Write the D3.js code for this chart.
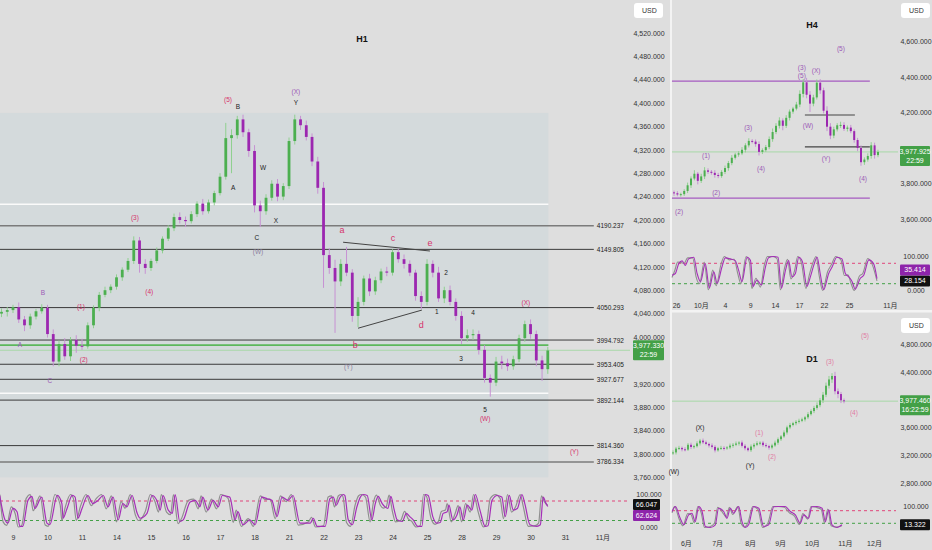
<!DOCTYPE html>
<html>
<head>
<meta charset="utf-8">
<script src="https://cdn.jsdelivr.net/npm/d3@7"></script>
<style>
  body { margin: 0; background: #dedede; }
  svg { display: block; }
</style>
</head>
<body>
<svg width="932" height="550"></svg>
<script>
// ---------- H1 data ----------
let h1Open0 = 4040;
let h1Close = [4043,4046,4051,4030,4020,4035,4044,4050,4005,3958,
  3988,3967,3995,3985,3984,4020,4050,4072,4080,4086,
  4102,4115,4130,4165,4125,4118,4130,4148,4168,4186,
  4205,4200,4198,4210,4228,4215,4230,4246,4274,4340,
  4345,4372,4350,4318,4225,4215,4238,4262,4240,4258,
  4335,4372,4362,4342,4300,4255,4140,4118,4095,4125,
  4110,4036,4060,4100,4078,4097,4112,4110,4145,4133,
  4125,4110,4070,4060,4125,4110,4066,4080,4060,4036,
  3998,4003,4005,3978,3930,3922,3958,3955,3950,3962,
  3998,4022,4005,3960,3945,3977];
let h1Up = [6,5,4,8,6,5,4,6,5,8, 6,10,5,8,12,5,4,5,6,4, 5,4,5,7,6,8,4,5,4,5,
  6,8,6,5,4,8,5,4,6,26, 10,6,8,6,10,8,6,6,8,5, 6,8,6,8,6,8,10,12,14,8,
  29,6,8,5,8,6,5,8,5,6, 8,6,5,8,8,6,10,6,8,6, 8,10,8,6,8,6,8,10,8,6, 6,6,8,6,8,6];
let h1Dn = [6,8,5,6,10,6,5,4,6,8, 8,6,8,12,6,4,5,6,4,5, 5,6,4,5,15,10,5,4,5,4,
  5,6,10,4,5,6,4,5,4,5, 60,6,8,10,12,27,6,5,8,6, 5,6,8,6,8,10,56,10,88,8,
  6,10,19,6,8,6,5,6,5,6, 8,6,8,12,6,8,6,8,6,8, 10,6,8,8,8,24,6,10,8,6, 5,6,8,10,20,8];

let h1TickLabels = ['9','10','11','14','15','16','17','18','21','22','23','24','25','28','29','30','31','11月'];
let h1TickIdx = [2,8,14,20,26,32,38,44,50,56,62,68,74,80,86,92,98,104.5];
let h1PriceTicks = [3760,3800,3840,3880,3920,4000,4040,4080,4120,4160,4200,4240,4280,4320,4360,4400,4440,4480,4520];

let h1Levels = [4190.237,4149.805,4050.293,3994.792,3953.405,3927.677,3892.144,3814.360,3786.334];
let h1WhiteLevels = [4227,3904];
let h1GreenLevel = 3986;
let h1Last = 3977.33;
let h1LastTime = '22:59';
let h1ZoneTop = 4383;
let h1TriUpper = [[59.4,4162],[74.5,4147]];
let h1TriLower = [[62,4015],[73.1,4046]];

let h1WaveText = ['(5)','B','(X)','Y','A','W','X','C','(W)','(3)','(4)','B','(1)','A','(2)','C',
  'a','c','e','d','b','(Y)','2','1','4','3','5','(W)','(X)','(Y)'];
let h1WaveIdx = [39.4,41.1,51.2,51.2,40.3,45.5,47.7,44.4,44.6,23.2,25.7,7.2,13.8,3.2,14.3,8.4,
  59.2,68.1,74.5,73,61.5,60.3,77.3,75.7,82,79.9,84.1,84.1,91.2,99.6];
let h1WavePrice = [4405,4393,4419,4400,4255,4289,4198,4169,4145,4203,4077,4074,4051,3985,3961,3925,
  4181,4169,4159,4020,3986,3949,4109,4043,4041,3962,3875,3860,4058,3803];
let h1WaveKind = ['p','k','v','k','k','k','k','k','g','p','p','v','p','v','p','v',
  'P','P','P','P','P','g','k','k','k','k','k','p','p','p'];

let h1StochD = [
[-0.3,97],[0.6,22],[1.1,12],[2,57],[2.7,47],[3.2,2],[3.7,2],[4.6,82],[5.3,94],[5.8,57],
[7,92],[7.9,12],[8.4,7],[9.7,97],[10.5,72],[10.7,27],[11.4,57],[12.3,97],[12.8,92],[13.3,27],
[14,57],[15,97],[15.9,72],[16.8,82],[17.7,97],[18.5,62],[19.4,92],[20.3,22],[21.1,72],[21.8,62],
[22.7,97],[23.6,42],[24.1,27],[25.3,42],[26.2,97],[27,82],[27.6,52],[28.1,97],[29,52],[29.7,42],
[30.2,100],[31,17],[31.6,22],[32.8,77],[33.7,82],[34.5,62],[35,92],[35.9,52],[36.8,82],[37.7,62],
[38.4,97],[39.7,92],[40.6,22],[41.1,47],[42,7],[43.2,22],[44.1,7],[45.3,92],[46.2,87],[47,82],
[47.9,32],[48.8,92],[49.8,82],[50.7,97],[51.9,12],[53.7,12],[54.2,27],[54.9,2],[56.3,2],[57.1,87],
[57.7,92],[58.2,67],[58.9,92],[59.4,100],[59.7,97],[60.3,22],[61,7],[61.8,62],[62.4,92],[62.9,100],
[63.6,97],[64.4,22],[65,72],[65.5,94],[66.2,72],[66.7,62],[67.2,57],[67.7,94],[68.3,52],[68.8,22],
[69.7,17],[70.4,42],[71,32],[71.6,22],[72.4,2],[73.1,2],[73.7,100],[74.2,97],[75,32],[75.7,12],
[76.3,14],[76.8,42],[77.5,47],[77.8,67],[78.5,22],[79.2,37],[79.7,62],[80.3,22],[81,67],[81.8,52],
[82.4,100],[83.2,52],[84.1,2],[84.6,4],[85.3,82],[86.2,97],[87,92],[87.6,32],[88.3,97],[89,52],
[89.7,57],[90.5,100],[91,72],[91.9,7],[93.1,2],[93.7,7],[94.2,92],[94.7,72],[95,63]];
let h1StochK = [
[-0.3,100],[0.3,15],[0.9,5],[1.7,62],[2.4,40],[2.9,0],[3.5,4],[4.3,88],[5,100],[5.5,50],
[6.7,96],[7.6,6],[8.1,2],[9.3,100],[10.2,68],[10.5,20],[11.1,62],[12,100],[12.5,88],[13,20],
[13.7,62],[14.7,100],[15.6,66],[16.5,88],[17.4,100],[18.2,56],[19.1,96],[20,16],[20.8,78],[21.5,58],
[22.4,100],[23.3,36],[23.8,20],[25,48],[25.9,100],[26.7,78],[27.3,46],[27.8,100],[28.7,46],[29.4,38],
[29.9,100],[30.7,10],[31.3,26],[32.5,82],[33.4,86],[34.2,56],[34.7,96],[35.6,46],[36.5,86],[37.4,56],
[38.1,100],[39.4,88],[40.3,14],[40.8,52],[41.7,2],[42.9,26],[43.8,2],[45,96],[45.9,84],[46.7,86],
[47.6,26],[48.5,96],[49.5,78],[50.4,100],[51.6,6],[53.4,16],[53.9,30],[54.6,0],[56,4],[56.8,92],
[57.4,96],[57.9,62],[58.6,96],[59.1,100],[59.4,92],[60,14],[60.7,2],[61.5,68],[62.1,96],[62.6,100],
[63.3,92],[64.1,16],[64.7,78],[65.2,98],[65.9,66],[66.4,58],[66.9,62],[67.4,98],[68,46],[68.5,16],
[69.4,20],[70.1,48],[70.7,26],[71.3,18],[72.1,0],[72.8,4],[73.4,100],[73.9,94],[74.7,26],[75.4,8],
[76,18],[76.5,48],[77.2,52],[77.5,72],[78.2,16],[78.9,42],[79.4,66],[80,16],[80.7,72],[81.5,46],
[82.1,100],[82.9,46],[83.8,0],[84.3,8],[85,88],[85.9,100],[86.7,88],[87.3,26],[88,100],[88.7,46],
[89.4,62],[90.2,100],[90.7,66],[91.6,2],[92.8,4],[93.4,12],[93.9,96],[94.4,78],[95,66]];
let h1StochLast = ['66.047','62.624'];

// ---------- H4 data ----------
let h4Open0 = 3750;
let h4Close = [3745,3738,3740,3758,3790,3828,3855,3815,3840,3874,
  3866,3860,3848,3842,3865,3887,3915,3945,3963,3970,
  3990,4015,4040,4036,4022,3978,3988,4005,4050,4090,
  4125,4155,4125,4170,4205,4222,4245,4305,4370,4300,
  4250,4285,4368,4325,4210,4120,4070,4105,4128,4130,
  4108,4115,4095,4045,4000,3920,3935,3955,4015,3960,3978];
let h4Up = [10,12,8,10,15,12,20,10,15,18,12,10,15,12,10,14,12,15,10,12,15,12,15,10,12,15,10,12,15,20,
  15,18,12,15,12,10,15,20,18,25,20,15,18,20,15,25,20,15,12,18,15,12,15,10,12,15,12,15,18,15,12];
let h4Dn = [15,10,12,10,12,15,10,20,12,15,12,10,15,12,10,12,15,12,10,12,10,15,12,10,15,20,12,10,12,15,
  12,15,25,12,15,12,10,15,20,20,47,15,12,20,15,25,20,15,12,15,12,15,12,15,18,20,15,12,15,20,12];
let h4TickLabels = ['26','10月','4','9','14','17','22','25','11月'];
let h4TickIdx = [0.6,7.9,15,22.4,29.7,36.8,44.1,51.5,63.5];
let h4PriceTicks = [3600,3800,4200,4400,4600];
let h4PurpleLevels = [4377,3718];
let h4GrayLevels = [[4186,38.5,53.2],[4006,38.5,57.6]];
let h4Last = 3977.925;
let h4LastTime = '22:59';
let h4WaveText = ['(5)','(3)','(5)','(X)','(W)','(Y)','(4)','(3)','(1)','(4)','(2)','(2)'];
let h4WaveIdx = [49.1,37.6,37.6,41.8,39.4,44.7,55.6,21.8,9.4,25.6,12.4,1.5];
let h4WavePrice = [4558,4451,4406,4434,4124,3938,3825,4113,3955,3882,3746,3639];
let h4StochD = [[-0.6,45],[0.4,50],[1.4,79],[2.4,87],[3.3,74],[4.3,93],[5.8,98],[6.8,50],[7.8,26],[9.2,79],
  [10.4,7],[11.7,55],[12.7,21],[14.1,69],[15.1,96],[16.6,93],[18,88],[19,60],[20,26],[21.5,98],
  [22.5,88],[23.2,12],[24.4,31],[25.7,16],[26.9,69],[27.8,96],[29.3,100],[30.6,98],[31.6,7],[32.8,60],
  [33.7,88],[34.7,40],[35.7,50],[36.7,98],[37.8,84],[39.1,12],[40.1,40],[41.1,74],[42.1,98],[43,50],
  [44,2],[45.5,50],[46.5,69],[47.9,98],[49.4,93],[50.4,50],[51.4,40],[52.4,26],[53.3,4],[54.8,36],
  [55.8,45],[57.3,90],[58.7,79],[59.7,35]];
let h4StochK = [[-0.6,38],[0.2,58],[1.1,84],[2.1,82],[3,80],[4,96],[5.5,96],[6.5,40],[7.5,20],[8.9,84],
  [10.1,2],[11.4,60],[12.4,14],[13.8,76],[14.8,100],[16.3,90],[17.7,92],[18.7,52],[19.7,20],[21.2,100],
  [22.2,82],[22.9,6],[24.1,36],[25.4,10],[26.6,76],[27.5,100],[29,100],[30.3,94],[31.3,2],[32.5,66],
  [33.4,92],[34.4,34],[35.4,56],[36.4,100],[37.5,80],[38.8,6],[39.8,46],[40.8,80],[41.8,100],[42.7,44],
  [43.7,0],[45.2,56],[46.2,74],[47.6,100],[49.1,90],[50.1,44],[51.1,46],[52.1,20],[53,0],[54.5,42],
  [55.5,50],[57,94],[58.4,74],[59.7,28]];
let h4StochLast = ['35.414','28.154'];

// ---------- D1 data ----------
let d1Open0 = 3230;
let d1Close = [3240,3295,3305,3285,3280,3350,3318,3330,3370,3410,
  3385,3362,3340,3320,3270,3300,3305,3298,3312,3338,
  3350,3368,3382,3335,3300,3272,3325,3350,3372,3380,
  3345,3330,3310,3340,3380,3430,3470,3527,3600,3635,
  3660,3680,3695,3715,3745,3790,3835,3880,3920,3990,
  4070,4200,4290,4340,4120,4080,3990,3977];
let d1Up = [30,25,30,20,30,25,30,20,30,25,30,25,20,30,25,20,30,25,20,30,25,30,20,30,25,20,30,25,30,20,
  25,30,20,25,30,25,20,30,25,30,20,25,30,25,20,30,25,30,40,35,40,45,50,40,60,40,30,25];
let d1Dn = [25,30,20,30,25,20,30,25,20,30,25,20,30,25,30,20,25,30,20,25,30,20,30,25,30,20,25,30,20,30,
  25,20,30,25,20,30,25,20,30,25,20,30,25,20,30,25,20,30,25,30,40,35,40,50,45,60,40,30];
let d1TickLabels = ['6月','7月','8月','9月','10月','11月','12月'];
let d1TickIdx = [4.3,14.7,25.7,35.7,46.3,57.3,67];
let d1PriceTicks = [2800,3200,3600,4400,4800];
let d1Last = 3977.46;
let d1LastTime = '16:22:59';
let d1WaveText = ['(5)','(3)','(4)','(X)','(1)','(2)','(Y)','(W)'];
let d1WaveIdx = [64,52.3,60.3,9,28.7,33,25.7,0.3];
let d1WavePrice = [4904,4544,3796,3594,3522,3177,3047,2961];
let d1WaveKind = ['p','p','p','k','p','p','k','k'];
let d1StochD = [[-0.3,76],[0.8,100],[2.4,44],[3.6,13],[5.2,60],[6.3,68],[7.4,28],[8.6,100],[9.7,76],[10.8,5],
  [12.4,0],[14.1,13],[15.2,92],[16.9,76],[18,44],[19.1,92],[20.2,68],[21.9,100],[23,28],[24.1,0],
  [25.2,13],[26.9,100],[28.6,92],[30.2,5],[31.9,13],[33.6,99],[35.2,100],[37.4,100],[39.1,76],[40.8,60],
  [42.4,20],[43.6,60],[45.2,44],[46.3,99],[48,100],[49.7,92],[50.8,28],[51.9,84],[53,13],[54.7,0],[56.3,13]];
let d1StochK = [[-0.3,70],[0.5,100],[2.1,38],[3.3,8],[4.9,66],[6,62],[7.1,22],[8.3,100],[9.4,70],[10.5,0],
  [12.1,2],[13.8,20],[14.9,96],[16.6,70],[17.7,50],[18.8,96],[19.9,62],[21.6,100],[22.7,20],[23.8,2],
  [24.9,20],[26.6,100],[28.3,86],[29.9,0],[31.6,20],[33.3,100],[34.9,100],[37.1,96],[38.8,70],[40.5,54],
  [42.1,14],[43.3,66],[44.9,40],[46,100],[47.7,96],[49.4,86],[50.5,22],[51.6,88],[52.7,8],[54.4,2],[56.3,8]];
let d1StochLast = '13.322';

// ---------- drawing ----------
let FONT = '"Liberation Sans","Noto Sans CJK SC",sans-serif';
let UP = '#4caf50', DOWN = '#9c27b0', UPW = '#8fd08f', DOWNW = '#c792d3';
let PINK = '#d6336c', VIOLET = '#9b59b6', GRAYV = '#8d7f9e', BLACK = '#222';
let svg = d3.select('svg').style('font-family', FONT);

let candles = (g, x, y, closes, open0, up, dn, bw) => {
  let rows = closes.map((c, i) => {
    let o = i ? closes[i - 1] : open0;
    return { i, o, c, h: Math.max(o, c) + (up[i] || 0), l: Math.min(o, c) - (dn[i] || 0) };
  });
  g.selectAll(null).data(rows).enter().append('line')
    .attr('x1', d => x(d.i)).attr('x2', d => x(d.i))
    .attr('y1', d => y(d.h)).attr('y2', d => y(d.l))
    .attr('stroke', d => d.c >= d.o ? UPW : DOWNW).attr('stroke-width', 1);
  g.selectAll(null).data(rows).enter().append('rect')
    .attr('x', d => x(d.i) - bw / 2).attr('width', bw)
    .attr('y', d => y(Math.max(d.o, d.c)))
    .attr('height', d => Math.max(1, Math.abs(y(d.o) - y(d.c))))
    .attr('fill', d => d.c >= d.o ? UP : DOWN);
};

let osc = (g, x, y, pts, color, w) => {
  g.append('path').datum(pts)
    .attr('d', d3.line().x(d => x(d[0])).y(d => y(d[1])).curve(d3.curveMonotoneX))
    .attr('fill', 'none').attr('stroke', color).attr('stroke-width', w);
};

let oscBands = (g, y, x0, x1) => {
  g.append('line').attr('x1', x0).attr('x2', x1).attr('y1', y(80)).attr('y2', y(80))
    .attr('stroke', '#e0457b').attr('stroke-dasharray', '3,3').attr('stroke-width', 1);
  g.append('line').attr('x1', x0).attr('x2', x1).attr('y1', y(20)).attr('y2', y(20))
    .attr('stroke', '#43a047').attr('stroke-dasharray', '3,3').attr('stroke-width', 1);
};

let priceAxis = (g, y, vals, fmt, cx) => {
  let ax = g.append('g').attr('transform', 'translate(' + cx + ',0)')
    .call(d3.axisRight(y).tickValues(vals).tickFormat(fmt).tickSize(0));
  ax.select('.domain').remove();
  ax.selectAll('text').attr('x', 0).attr('text-anchor', 'middle')
    .attr('fill', '#333').style('font-size', '7px').style('font-family', FONT);
};

let timeAxis = (g, x, idx, labels, ty) => {
  let ax = g.append('g').attr('transform', 'translate(0,' + ty + ')')
    .call(d3.axisBottom(x).tickValues(idx).tickFormat((d, i) => labels[i]).tickSize(0));
  ax.select('.domain').remove();
  ax.selectAll('text').attr('y', 0).attr('fill', '#333')
    .style('font-size', '7px').style('font-family', FONT);
};

let tag = (g, x0, w, cy, lines, bg, fg) => {
  let h = lines.length * 9 + 2;
  g.append('rect').attr('x', x0).attr('y', cy - h / 2).attr('width', w).attr('height', h)
    .attr('fill', bg).attr('rx', 1);
  lines.forEach((t, k) => {
    g.append('text').attr('x', x0 + w / 2).attr('y', cy - h / 2 + 8 + k * 9)
      .attr('text-anchor', 'middle').attr('fill', fg || '#fff').style('font-size', '7px').text(t);
  });
  return h;
};

let usdBox = (g, x0, y0) => {
  g.append('rect').attr('x', x0).attr('y', y0).attr('width', 29).attr('height', 15)
    .attr('rx', 3).attr('fill', '#fff');
  g.append('text').attr('x', x0 + 8).attr('y', y0 + 10).attr('fill', '#333')
    .style('font-size', '7px').text('USD');
};

let fmtAxis = d3.format(',.3f');

// ===== H1 panel =====
let h1X = d3.scaleLinear().domain([0, 95]).range([1.5, 547.8]);
let h1Y = d3.scaleLinear().domain([3760, 4520]).range([477.4, 32.8]);
let h1O = d3.scaleLinear().domain([0, 100]).range([527, 494.5]);
let g1 = svg.append('g');

g1.append('rect').attr('x', h1X(-0.3)).attr('width', h1X(95.1) - h1X(-0.3))
  .attr('y', h1Y(h1ZoneTop)).attr('height', h1Y(3760) - h1Y(h1ZoneTop))
  .attr('fill', '#d4dadc');

g1.selectAll(null).data(h1WhiteLevels).enter().append('line')
  .attr('x1', h1X(-0.3)).attr('x2', h1X(95.1))
  .attr('y1', d => h1Y(d)).attr('y2', d => h1Y(d))
  .attr('stroke', '#fafafa').attr('stroke-width', 1.5);

g1.selectAll(null).data(h1Levels).enter().append('line')
  .attr('x1', 0).attr('x2', h1X(103))
  .attr('y1', d => h1Y(d)).attr('y2', d => h1Y(d))
  .attr('stroke', (d, i) => (i === 0 || i === h1Levels.length - 1) ? '#7b7b7b' : '#3a3a3a')
  .attr('stroke-width', (d, i) => (i === 0 || i === h1Levels.length - 1) ? 1.6 : 1);
g1.selectAll(null).data(h1Levels).enter().append('text')
  .attr('x', h1X(103) + 3).attr('y', d => h1Y(d) + 2.5)
  .attr('fill', '#222').style('font-size', '6.5px').text(d => d3.format('.3f')(d));

g1.append('line').attr('x1', h1X(-0.3)).attr('x2', h1X(95.1))
  .attr('y1', h1Y(h1GreenLevel)).attr('y2', h1Y(h1GreenLevel))
  .attr('stroke', '#5cb85c').attr('stroke-width', 1.8);
g1.append('line').attr('x1', 0).attr('x2', 630)
  .attr('y1', h1Y(h1Last)).attr('y2', h1Y(h1Last))
  .attr('stroke', '#a8d8a8').attr('stroke-width', 1);

[h1TriUpper, h1TriLower].forEach(seg => {
  g1.append('line').attr('x1', h1X(seg[0][0])).attr('y1', h1Y(seg[0][1]))
    .attr('x2', h1X(seg[1][0])).attr('y2', h1Y(seg[1][1]))
    .attr('stroke', '#444').attr('stroke-width', 1);
});

candles(g1, h1X, h1Y, h1Close, h1Open0, h1Up, h1Dn, 2.8);

let kindColor = { k: BLACK, p: PINK, P: PINK, v: VIOLET, g: GRAYV };
g1.selectAll(null).data(h1WaveText).enter().append('text')
  .attr('x', (d, i) => h1X(h1WaveIdx[i])).attr('y', (d, i) => h1Y(h1WavePrice[i]))
  .attr('text-anchor', 'middle').attr('dominant-baseline', 'middle')
  .attr('fill', (d, i) => kindColor[h1WaveKind[i]])
  .style('font-size', (d, i) => h1WaveKind[i] === 'P' ? '9px' : '6.5px')
  .text(d => d);

g1.append('text').attr('x', 362).attr('y', 42).attr('text-anchor', 'middle')
  .attr('fill', '#111').style('font-size', '9px').style('font-weight', 'bold').text('H1');

priceAxis(g1, h1Y, h1PriceTicks, fmtAxis, 649);
usdBox(g1, 634, 3);
tag(g1, 633, 31, h1Y(h1Last), [d3.format(',.3f')(h1Last), h1LastTime], '#43a047');

oscBands(g1, h1O, 0, 630);
osc(g1, h1X, h1O, h1StochK, '#8f8f8f', 1.2);
osc(g1, h1X, h1O, h1StochD, '#a52fb8', 1.2);
priceAxis(g1, h1O, [0, 100], fmtAxis, 649);
let hb = tag(g1, 633, 27, h1O(66.047) - 1, [h1StochLast[0]], '#111');
tag(g1, 633, 27, h1O(66.047) - 1 + hb, [h1StochLast[1]], '#8e24aa');

timeAxis(g1, h1X, h1TickIdx, h1TickLabels, 535);

// dividers
svg.append('rect').attr('x', 670).attr('y', 0).attr('width', 2).attr('height', 550).attr('fill', '#f3f3f3');
svg.append('rect').attr('x', 672).attr('y', 310).attr('width', 260).attr('height', 2.5).attr('fill', '#f3f3f3');

// ===== H4 panel =====
let h4X = d3.scaleLinear().domain([0, 60]).range([674, 878]);
let h4Y = d3.scaleLinear().domain([3600, 4600]).range([219, 41.5]);
let h4O = d3.scaleLinear().domain([0, 100]).range([290.5, 256.5]);
let g4 = svg.append('g');

g4.selectAll(null).data(h4PurpleLevels).enter().append('line')
  .attr('x1', h4X(-0.6)).attr('x2', h4X(57.6))
  .attr('y1', d => h4Y(d)).attr('y2', d => h4Y(d))
  .attr('stroke', '#a55bc0').attr('stroke-width', 1.2);
g4.selectAll(null).data(h4GrayLevels).enter().append('line')
  .attr('x1', d => h4X(d[1])).attr('x2', d => h4X(d[2]))
  .attr('y1', d => h4Y(d[0])).attr('y2', d => h4Y(d[0]))
  .attr('stroke', '#444').attr('stroke-width', 1.2);
g4.append('line').attr('x1', 672).attr('x2', 898)
  .attr('y1', h4Y(h4Last)).attr('y2', h4Y(h4Last))
  .attr('stroke', '#a8d8a8').attr('stroke-width', 1);

candles(g4, h4X, h4Y, h4Close, h4Open0, h4Up, h4Dn, 2);

g4.selectAll(null).data(h4WaveText).enter().append('text')
  .attr('x', (d, i) => h4X(h4WaveIdx[i])).attr('y', (d, i) => h4Y(h4WavePrice[i]))
  .attr('text-anchor', 'middle').attr('dominant-baseline', 'middle')
  .attr('fill', VIOLET).style('font-size', '6.5px').text(d => d);

g4.append('text').attr('x', 812).attr('y', 28).attr('text-anchor', 'middle')
  .attr('fill', '#111').style('font-size', '9px').style('font-weight', 'bold').text('H4');

priceAxis(g4, h4Y, h4PriceTicks, fmtAxis, 916);
usdBox(g4, 901, 3);
tag(g4, 900, 30, h4Y(h4Last) + 4, [d3.format(',.3f')(h4Last), h4LastTime], '#43a047');

oscBands(g4, h4O, 672, 896);
osc(g4, h4X, h4O, h4StochK, '#8f8f8f', 1.1);
osc(g4, h4X, h4O, h4StochD, '#a52fb8', 1.1);
priceAxis(g4, h4O, [0, 100], fmtAxis, 916);
let hb4 = tag(g4, 900, 30, h4O(28.154), [h4StochLast[1]], '#111');
tag(g4, 900, 30, h4O(28.154) - hb4, [h4StochLast[0]], '#8e24aa');

timeAxis(g4, h4X, h4TickIdx, h4TickLabels, 303);

// ===== D1 panel =====
let d1X = d3.scaleLinear().domain([0, 57]).range([673, 844]);
let d1Y = d3.scaleLinear().domain([2800, 4800]).range([483, 344]);
let d1O = d3.scaleLinear().domain([0, 100]).range([527.5, 506.5]);
let gd = svg.append('g');

gd.append('line').attr('x1', 672).attr('x2', 898)
  .attr('y1', d1Y(d1Last)).attr('y2', d1Y(d1Last))
  .attr('stroke', '#a8d8a8').attr('stroke-width', 1);

candles(gd, d1X, d1Y, d1Close, d1Open0, d1Up, d1Dn, 1.8);

let d1Color = { k: BLACK, p: '#e07aa3' };
gd.selectAll(null).data(d1WaveText).enter().append('text')
  .attr('x', (d, i) => d1X(d1WaveIdx[i])).attr('y', (d, i) => d1Y(d1WavePrice[i]))
  .attr('text-anchor', 'middle').attr('dominant-baseline', 'middle')
  .attr('fill', (d, i) => d1Color[d1WaveKind[i]]).style('font-size', '6.5px').text(d => d);

gd.append('text').attr('x', 812).attr('y', 362).attr('text-anchor', 'middle')
  .attr('fill', '#111').style('font-size', '9px').style('font-weight', 'bold').text('D1');

priceAxis(gd, d1Y, d1PriceTicks, fmtAxis, 916);
usdBox(gd, 901, 318);
tag(gd, 900, 30, d1Y(d1Last) + 4, [d3.format(',.3f')(d1Last), d1LastTime], '#43a047');

oscBands(gd, d1O, 672, 896);
osc(gd, d1X, d1O, d1StochK, '#8f8f8f', 1.1);
osc(gd, d1X, d1O, d1StochD, '#a52fb8', 1.1);
priceAxis(gd, d1O, [100], fmtAxis, 916);
tag(gd, 900, 30, d1O(13.322), [d1StochLast], '#111');

timeAxis(gd, d1X, d1TickIdx, d1TickLabels, 541);
</script>
</body>
</html>
